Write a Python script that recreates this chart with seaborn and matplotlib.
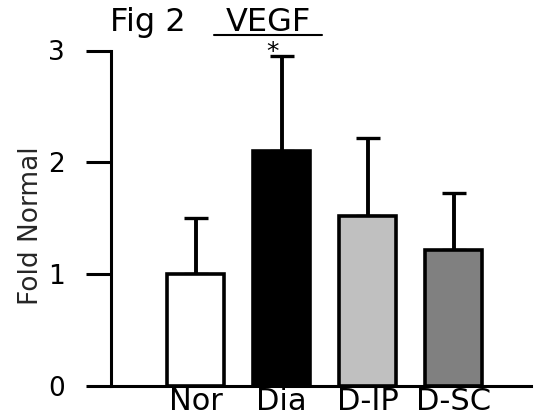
import matplotlib
matplotlib.use("Agg")
import matplotlib.pyplot as plt
import seaborn as sns
import pandas as pd

# ---- data ----
categories = ["Nor", "Dia", "D-IP", "D-SC"]
fold_normal = [1.0, 2.10, 1.52, 1.22]
sd_upper = [0.50, 0.85, 0.70, 0.51]
bar_colors = ["#FFFFFF", "#000000", "#C0C0C0", "#808080"]
y_ticks = [0, 1, 2, 3]

sns.set_style("ticks")
plt.rcParams["font.family"] = ["DejaVu Sans"]

W, H = 534, 418
fig = plt.figure(figsize=(W / 100, H / 100), dpi=100)
ax = fig.add_axes([111 / W, 1 - 386 / H, (531 - 111) / W, (386 - 50.5) / H])

df = pd.DataFrame({"group": categories, "value": fold_normal})
sns.barplot(data=df, x="group", y="value", hue="group", palette=bar_colors,
            order=categories, hue_order=categories, legend=False,
            errorbar=None, width=0.67, edgecolor="black", linewidth=2.6,
            saturation=1, ax=ax, zorder=3)

ax.errorbar(x=list(range(len(categories))), y=fold_normal,
            yerr=[[0] * len(categories), sd_upper], fmt="none",
            ecolor="black", elinewidth=2.8, capsize=8.5, capthick=2.4,
            zorder=2)

ax.set_ylim(0, 3)
ax.set_xlim(-0.983, 3.90)
ax.set_yticks(y_ticks)
ax.set_yticklabels([str(t) for t in y_ticks])
ax.set_xlabel("")
ax.set_ylabel("Fold Normal", fontsize=19)
ax.yaxis.set_label_coords(-0.160, 0.477)

for side in ["top", "right"]:
    ax.spines[side].set_visible(False)
for side in ["left", "bottom"]:
    ax.spines[side].set_linewidth(2.2)
    ax.spines[side].set_color("black")

ax.tick_params(axis="y", length=18, width=2.2, direction="out",
               labelsize=19, pad=15, colors="black")
ax.tick_params(axis="x", length=0, labelsize=22, pad=1.0, colors="black")

# significance star above Dia
ax.text(0.9, 2.925, "*", ha="center", va="baseline", fontsize=18,
        color="black", clip_on=False)

# title: "Fig 2   VEGF" with VEGF underlined
fig.text(148 / W, 1 - 31 / H, "Fig 2", ha="center", va="baseline",
         fontsize=23, color="black")
fig.text(268 / W, 1 - 31 / H, "VEGF", ha="center", va="baseline",
         fontsize=23, color="black")
fig.add_artist(plt.Line2D([214 / W, 322 / W], [1 - 34.5 / H, 1 - 34.5 / H],
                          transform=fig.transFigure, color="black", lw=1.5))

fig.savefig("out.png", dpi=100, facecolor="white")
